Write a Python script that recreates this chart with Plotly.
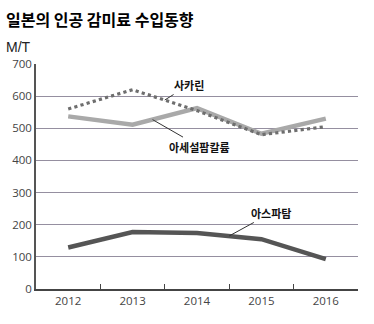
import plotly.graph_objects as go

years = ["2012", "2013", "2014", "2015", "2016"]
saccharin = [560, 620, 555, 480, 505]
acesulfame = [537, 511, 563, 483, 530]
aspartame = [129, 177, 174, 155, 93]
y_ticks = [0, 100, 200, 300, 400, 500, 600, 700]

fig = go.Figure()
fig.add_trace(go.Scatter(x=years, y=acesulfame, mode="lines",
                         line=dict(color="#a9a9a9", width=4.5), name="아세설팜칼륨"))
fig.add_trace(go.Scatter(x=years, y=saccharin, mode="lines",
                         line=dict(color="#6e6e6e", width=3.2, dash="dot"), name="사카린"))
fig.add_trace(go.Scatter(x=years, y=aspartame, mode="lines",
                         line=dict(color="#555555", width=4.5), name="아스파탐"))

font_family = "Noto Sans CJK KR, Noto Sans, sans-serif"

fig.update_layout(
    width=374, height=324,
    margin=dict(l=33, r=16, t=64, b=35),
    paper_bgcolor="white", plot_bgcolor="white",
    showlegend=False,
    font=dict(family=font_family, color="#333"),
    xaxis=dict(type="category", range=[-0.5, 4.5], showgrid=False,
               ticks="inside", tickson="boundaries", ticklen=5, tickcolor="#444",
               showline=True, linecolor="#444", linewidth=1.5,
               tickfont=dict(size=11.5, color="#444", family="Open Sans, sans-serif")),
    yaxis=dict(range=[0, 700], tickvals=y_ticks, showgrid=True,
               gridcolor="#958fa0", gridwidth=1, zeroline=False,
               showline=True, linecolor="#555", linewidth=1.5, ticks="",
               tickfont=dict(size=11.5, color="#444", family="Open Sans, sans-serif")),
)

fig.add_annotation(xref="paper", yref="paper", x=-0.075, y=1.2, xanchor="left", yanchor="middle",
                   text="<b>일본의 인공 감미료 수입동향</b>", showarrow=False,
                   font=dict(size=16, color="#000", family=font_family), xshift=-8)
fig.add_annotation(xref="paper", yref="paper", x=-0.075, y=1.075, xanchor="left", yanchor="middle",
                   text="M/T", showarrow=False,
                   font=dict(size=14, color="#222", family="Liberation Sans Narrow, Liberation Sans, sans-serif"), xshift=-8)

ann_font = dict(size=11, color="#111", family=font_family)
fig.add_annotation(x=1.5, y=588, text="<b>사카린</b>", showarrow=True, arrowhead=0,
                   arrowwidth=1, arrowcolor="#333", ax=24, ay=-15, font=ann_font)
fig.add_annotation(x=1.31, y=527, text="<b>아세설팜칼륨</b>", showarrow=True, arrowhead=0,
                   arrowwidth=1, arrowcolor="#333", ax=47, ay=27, font=ann_font)
fig.add_annotation(x=2.5, y=165, text="<b>아스파탐</b>", showarrow=True, arrowhead=0,
                   arrowwidth=1, arrowcolor="#333", ax=42, ay=-23, font=ann_font)

fig.write_html("out.html")
